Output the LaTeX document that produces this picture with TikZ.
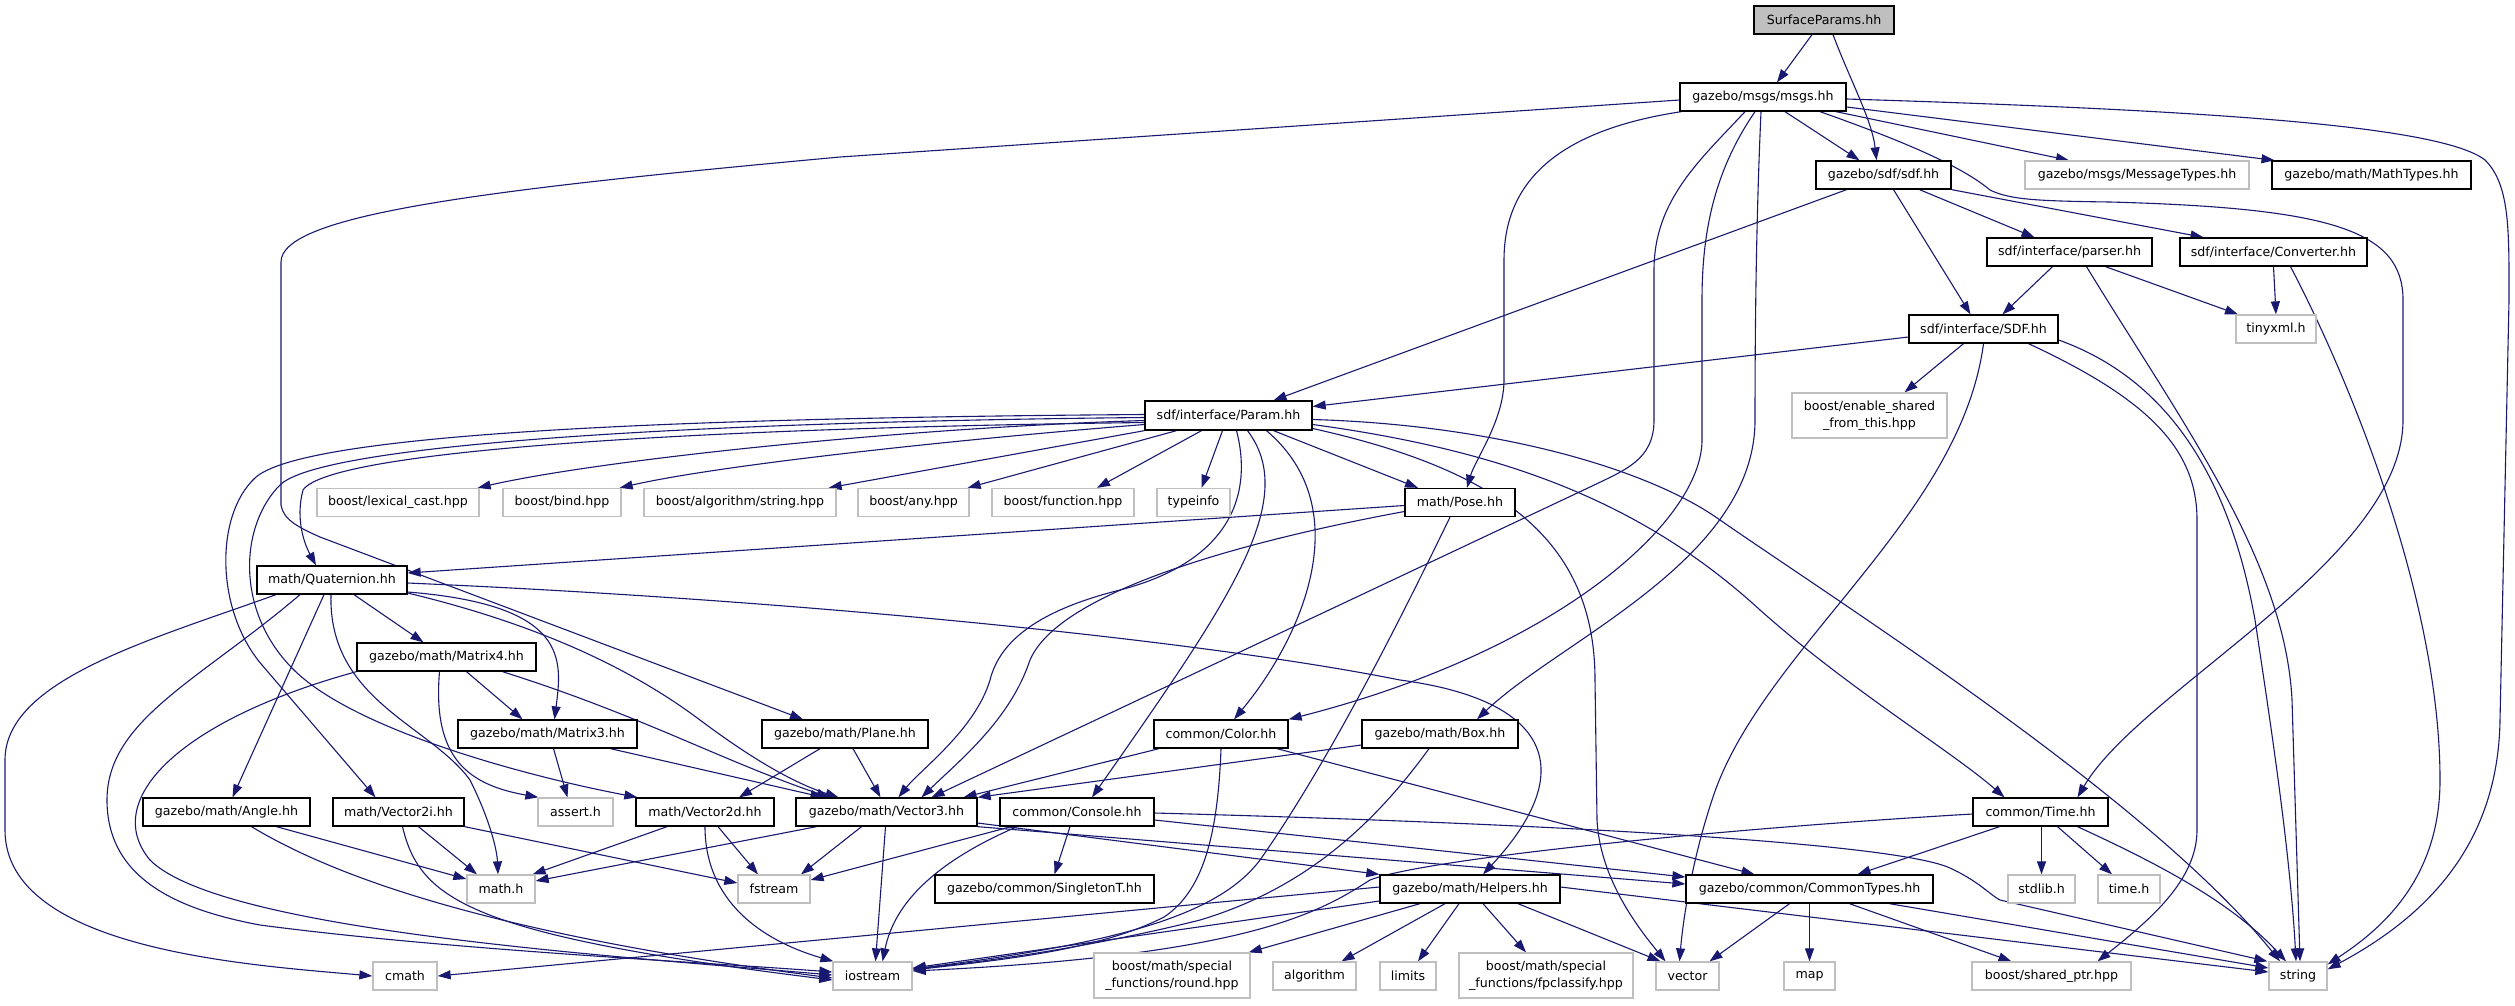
\documentclass[tikz,border=0pt]{standalone}
\usepackage{fontspec}
\setmainfont{DejaVu Sans}
\usetikzlibrary{arrows.meta}
\definecolor{edgeblue}{HTML}{191970}
\definecolor{greyline}{HTML}{BFBFBF}
\pgfdeclarelayer{back}
\pgfdeclarelayer{edges}
\pgfsetlayers{back,edges,main}
\begin{document}
\begin{tikzpicture}[x=1pt,y=-1pt,
  every node/.style={font=\fontsize{12.6}{17}\selectfont, inner sep=0pt, minimum height=28pt, fill=white, line width=1.3pt, align=center},
  bk/.style={draw=black},
  gr/.style={draw=greyline},
  rt/.style={draw=black, fill=greyline},
  tall/.style={minimum height=45pt},
  e/.style={draw=edgeblue, line width=1.1pt, -{Triangle[length=13pt,width=9pt]}}]
\begin{pgfonlayer}{back}
\fill[white] (0,0) rectangle (2515,1005);
\end{pgfonlayer}
\useasboundingbox (0,0) rectangle (2515,1005);
% row 0-4
\node[rt, minimum width=140] (sp) at (1824,20) {SurfaceParams.hh};
\node[bk, minimum width=166] (msgs) at (1763,97) {gazebo/msgs/msgs.hh};
\node[bk, minimum width=135] (sdf) at (1883.5,175) {gazebo/sdf/sdf.hh};
\node[gr, minimum width=224] (msgtypes) at (2137,175) {gazebo/msgs/MessageTypes.hh};
\node[bk, minimum width=199] (mathtypes) at (2371.5,175) {gazebo/math/MathTypes.hh};
\node[bk, minimum width=165] (parser) at (2069.5,252) {sdf/interface/parser.hh};
\node[bk, minimum width=187] (conv) at (2273.5,252) {sdf/interface/Converter.hh};
\node[bk, minimum width=149] (sdfi) at (1983.5,329) {sdf/interface/SDF.hh};
\node[gr, minimum width=80] (tinyxml) at (2276,329) {tinyxml.h};
% row 5-6
\node[bk, minimum width=167, minimum height=29] (param) at (1228.5,415.5) {sdf/interface/Param.hh};
\node[gr, tall, minimum width=155] (esft) at (1869.5,415.5) {boost/enable\_shared\\\_from\_this.hpp};
\node[gr, minimum width=162] (lexcast) at (398,502.5) {boost/lexical\_cast.hpp};
\node[gr, minimum width=118] (bind) at (562,502.5) {boost/bind.hpp};
\node[gr, minimum width=192] (algstr) at (740,502.5) {boost/algorithm/string.hpp};
\node[gr, minimum width=111] (any) at (913.5,502.5) {boost/any.hpp};
\node[gr, minimum width=142] (func) at (1063,502.5) {boost/function.hpp};
\node[gr, minimum width=73] (typeinfo) at (1193.5,502.5) {typeinfo};
\node[bk, minimum width=110] (pose) at (1460,502.5) {math/Pose.hh};
% row 7-9
\node[bk, minimum width=150] (quat) at (332,580) {math/Quaternion.hh};
\node[bk, minimum width=179] (m4) at (446.5,657) {gazebo/math/Matrix4.hh};
\node[bk, minimum width=179] (m3) at (547.5,734) {gazebo/math/Matrix3.hh};
\node[bk, minimum width=166] (plane) at (845,734) {gazebo/math/Plane.hh};
\node[bk, minimum width=134] (color) at (1221,734) {common/Color.hh};
\node[bk, minimum width=156] (box) at (1440,734) {gazebo/math/Box.hh};
% row 10
\node[bk, minimum width=167] (angle) at (226.5,812) {gazebo/math/Angle.hh};
\node[bk, minimum width=131] (v2i) at (398.5,812) {math/Vector2i.hh};
\node[gr, minimum width=75] (assert) at (575.5,812) {assert.h};
\node[bk, minimum width=138] (v2d) at (705,812) {math/Vector2d.hh};
\node[bk, minimum width=181] (v3) at (886.5,812) {gazebo/math/Vector3.hh};
\node[bk, minimum width=154] (console) at (1077,812) {common/Console.hh};
\node[bk, minimum width=135] (time) at (2040.5,812) {common/Time.hh};
% row 11
\node[gr, minimum width=68] (mathh) at (501,889) {math.h};
\node[gr, minimum width=72] (fstream) at (774,889) {fstream};
\node[bk, minimum width=219] (singleton) at (1044.5,889) {gazebo/common/SingletonT.hh};
\node[bk, minimum width=180] (helpers) at (1470,889) {gazebo/math/Helpers.hh};
\node[bk, minimum width=247] (ctypes) at (1809.5,889) {gazebo/common/CommonTypes.hh};
\node[gr, minimum width=67] (stdlib) at (2041.5,889) {stdlib.h};
\node[gr, minimum width=62] (timeh) at (2129,889) {time.h};
% row 12
\node[gr, minimum width=64] (cmath) at (405,976) {cmath};
\node[gr, minimum width=79] (iostream) at (872.5,976) {iostream};
\node[gr, tall, minimum width=156] (round) at (1172,975.5) {boost/math/special\\\_functions/round.hpp};
\node[gr, minimum width=83] (algorithm) at (1314.5,976) {algorithm};
\node[gr, minimum width=56] (limits) at (1408,976) {limits};
\node[gr, tall, minimum width=174] (fpclass) at (1546,975.5) {boost/math/special\\\_functions/fpclassify.hpp};
\node[gr, minimum width=63] (vector) at (1687.5,976) {vector};
\node[gr, minimum width=51] (map) at (1809.5,976) {map};
\node[gr, minimum width=159] (sharedptr) at (2051.5,976) {boost/shared\_ptr.hpp};
\node[gr, minimum width=58] (string) at (2298,976) {string};

\begin{pgfonlayer}{edges}
% SurfaceParams
\draw[e] ([xshift=-12]sp.south) -- ([xshift=14]msgs.north);
\draw[e] ([xshift=9]sp.south) .. controls (1850,80) and (1872,120) .. ([xshift=-7]sdf.north);
% msgs
\draw[e] ([xshift=22]msgs.south) -- ([xshift=-24]sdf.north);
\draw[e] ([xshift=73]msgs.south) -- ([xshift=-68]msgtypes.north);
\draw[e] ([yshift=-10]msgs.east) -- ([xshift=-97]mathtypes.north);
\draw[e] ([yshift=-2]msgs.east) .. controls (2200,110) and (2440,125) .. (2485,160) .. controls (2510,185) and (2509,230) .. (2509,300) -- (2500,720) .. controls (2498,850) and (2420,920) .. ([yshift=-8]string.north east);
\draw[e] ([xshift=57]msgs.south) .. controls (1900,140) and (1960,165) .. (1990,190) .. controls (2010,200) and (2040,201) .. (2110,202) .. controls (2330,208) and (2403,230) .. (2403,300) -- (2403,420) .. controls (2403,560) and (2140,690) .. ([xshift=37]time.north);
\draw[e] ([xshift=2]msgs.south west) .. controls (1560,130) and (1504,180) .. (1504,260) -- (1504,380) .. controls (1504,420) and (1475,460) .. ([xshift=7]pose.north);
\draw[e] ([xshift=-18]msgs.south) .. controls (1700,160) and (1654,200) .. (1654,270) -- (1654,420) .. controls (1654,460) and (1625,470) .. (1590,487) -- ([xshift=45]v3.north);
\draw[e] ([xshift=-8]msgs.south) .. controls (1715,170) and (1702,230) .. (1702,300) -- (1702,440) .. controls (1702,520) and (1560,650) .. (color.north east);
\draw[e] ([xshift=-2]msgs.south) .. controls (1757,200) and (1755,300) .. (1755,420) .. controls (1755,560) and (1560,640) .. ([xshift=37]box.north);
\draw[e] ([yshift=-3]msgs.west) -- (840,157) .. controls (480,190) and (281,215) .. (281,262) -- (281,505) .. controls (283,520) and (300,528) .. (320,537) -- ([xshift=-42]plane.north);
% sdf.hh
\draw[e] ([xshift=-37]sdf.south) -- ([xshift=45]param.north);
\draw[e] ([xshift=10]sdf.south) -- ([xshift=-13]sdfi.north);
\draw[e] ([xshift=36]sdf.south) -- ([xshift=-35]parser.north);
\draw[e] (sdf.south east) -- ([xshift=-70]conv.north);
% parser, converter
\draw[e] ([xshift=-17]parser.south) -- ([xshift=19]sdfi.north);
\draw[e] ([xshift=36]parser.south) -- ([xshift=-38]tinyxml.north);
\draw[e] ([xshift=17]parser.south) .. controls (2180,420) and (2285,560) .. (2292,700) -- ([xshift=2]string.north);
\draw[e] (conv.south) -- (tinyxml.north);
\draw[e] ([xshift=17]conv.south) .. controls (2350,380) and (2440,600) .. (2440,780) .. controls (2440,880) and (2380,930) .. ([yshift=-3]string.north east);
% SDF.hh
\draw[e] ([yshift=-8]sdfi.west) -- ([yshift=9]param.east);
\draw[e] ([xshift=-20]sdfi.south) -- ([xshift=35]esft.north);
\draw[e] (sdfi.south) .. controls (1960,520) and (1760,650) .. (1712,800) .. controls (1692,860) and (1683,920) .. ([xshift=-8]vector.north);
\draw[e] ([xshift=45]sdfi.south) .. controls (2150,400) and (2197,450) .. (2197,520) -- (2197,830) .. controls (2197,880) and (2150,920) .. ([xshift=46]sharedptr.north);
\draw[e] ([yshift=-11]sdfi.east) .. controls (2170,380) and (2230,480) .. (2255,620) .. controls (2270,720) and (2290,850) .. ([xshift=-2]string.north);
% Param.hh
\draw[e] ([yshift=-5]param.west) .. controls (900,428) and (600,460) .. ([xshift=-2]lexcast.north east);
\draw[e] ([yshift=-9]param.west) .. controls (950,440) and (720,465) .. ([xshift=-2]bind.north east);
\draw[e] (param.south west) -- ([xshift=-8]algstr.north east);
\draw[e] ([xshift=-52]param.south) -- ([xshift=-2]any.north east);
\draw[e] ([xshift=-27]param.south) -- ([xshift=34]func.north);
\draw[e] ([xshift=-6]param.south) -- ([xshift=8]typeinfo.north);
\draw[e] ([xshift=45]param.south) -- ([xshift=-42]pose.north);
\draw[e] ([yshift=-7]param.west) .. controls (700,428) and (330,450) .. (303,490) .. controls (295,520) and (305,545) .. ([xshift=-16]quat.north);
\draw[e] ([yshift=1]param.west) .. controls (650,418) and (300,435) .. (255,478) .. controls (215,515) and (215,610) .. (262,665) -- ([xshift=-23]v2i.north);
\draw[e] ([yshift=-2]param.west) .. controls (680,422) and (320,445) .. (280,485) .. controls (240,525) and (235,610) .. (292,668) .. controls (350,728) and (520,775) .. ([xshift=2]v2d.north west);
\draw[e] ([xshift=8]param.south) .. controls (1252,490) and (1235,560) .. (1120,590) .. controls (1040,610) and (1000,640) .. (990,680) .. controls (975,730) and (920,770) .. ([xshift=12]v3.north);
\draw[e] ([xshift=19]param.south) .. controls (1300,500) and (1230,600) .. ([xshift=15]console.north);
\draw[e] ([xshift=38]param.south) .. controls (1360,510) and (1300,640) .. ([xshift=13]color.north);
\draw[e] ([yshift=-9]param.east) .. controls (1500,450) and (1640,500) .. (1760,610) .. controls (1850,690) and (1950,750) .. ([xshift=-36]time.north);
\draw[e] ([yshift=-4]param.east) .. controls (1500,425) and (1650,470) .. (1720,520) .. controls (1850,610) and (2150,800) .. ([xshift=-18]string.north);
\draw[e] ([yshift=-13]param.east) .. controls (1500,470) and (1595,540) .. (1595,680) -- (1597,820) .. controls (1600,880) and (1640,930) .. ([xshift=-22]vector.north);
% Pose
\draw[e] ([yshift=-3]pose.west) -- ([yshift=7]quat.east);
\draw[e] ([yshift=-9]pose.west) .. controls (1250,540) and (1060,590) .. (1030,660) .. controls (1010,720) and (960,760) .. ([xshift=35]v3.north);
\draw[e] ([xshift=-10]pose.south) .. controls (1400,620) and (1330,760) .. (1260,860) .. controls (1215,920) and (1100,945) .. ([yshift=7]iostream.east);
% Quaternion
\draw[e] ([xshift=-56]quat.south) .. controls (150,640) and (5,680) .. (5,760) -- (5,830) .. controls (5,950) and (250,965) .. (cmath.west);
\draw[e] ([xshift=-32]quat.south) .. controls (200,680) and (107,720) .. (107,800) .. controls (107,880) and (180,910) .. (260,925) .. controls (450,950) and (700,962) .. ([yshift=4]iostream.west);
\draw[e] ([xshift=-8]quat.south) -- ([xshift=6]angle.north);
\draw[e] ([xshift=-1]quat.south) .. controls (328,700) and (430,725) .. (470,780) .. controls (490,820) and (497,850) .. ([xshift=-3]mathh.north);
\draw[e] ([xshift=22]quat.south) -- ([xshift=-23]m4.north);
\draw[e] ([yshift=-12]quat.east) .. controls (570,605) and (562,660) .. ([xshift=7]m3.north);
\draw[e] ([yshift=-13]quat.east) .. controls (520,620) and (620,660) .. (700,720) .. controls (760,765) and (800,785) .. ([xshift=-48]v3.north);
\draw[e] ([yshift=-3]quat.east) .. controls (800,600) and (1200,640) .. (1400,680) .. controls (1550,700) and (1580,770) .. ([xshift=13]helpers.north);
% Matrix4, Matrix3, Plane
\draw[e] ([xshift=20]m4.south) -- ([xshift=-25]m3.north);
\draw[e] ([xshift=-7]m4.south) .. controls (432,760) and (470,785) .. ([xshift=1]assert.north west);
\draw[e] ([xshift=56]m4.south) .. controls (640,715) and (720,760) .. ([xshift=-57]v3.north);
\draw[e] (m4.south west) .. controls (180,720) and (100,800) .. (150,860) .. controls (220,930) and (600,955) .. ([yshift=1]iostream.west);
\draw[e] ([xshift=6]m3.south) -- ([xshift=-8]assert.north);
\draw[e] ([xshift=63]m3.south) -- ([xshift=-63]v3.north);
\draw[e] ([xshift=-25]plane.south) -- ([xshift=34]v2d.north);
\draw[e] ([xshift=8]plane.south) -- ([xshift=-6]v3.north);
% Angle, Vector2i, Vector2d, Vector3
\draw[e] ([xshift=50]angle.south) -- ([yshift=10]mathh.west);
\draw[e] ([xshift=25]angle.south) .. controls (340,880) and (500,935) .. ([yshift=-2]iostream.west);
\draw[e] ([xshift=20]v2i.south) -- ([xshift=-24]mathh.north);
\draw[e] ([xshift=4]v2i.south) .. controls (420,900) and (470,935) .. ([yshift=-4]iostream.west);
\draw[e] (v2i.south east) -- ([yshift=6]fstream.west);
\draw[e] ([xshift=-38]v2d.south) -- ([xshift=-3]mathh.north east);
\draw[e] ([xshift=13]v2d.south) -- ([xshift=-16]fstream.north);
\draw[e] (v2d.south) .. controls (705,900) and (760,940) .. ([xshift=1]iostream.north west);
\draw[e] ([xshift=-70]v3.south) -- ([yshift=8]mathh.east);
\draw[e] ([xshift=-25]v3.south) -- ([xshift=27]fstream.north);
\draw[e] ([xshift=-1]v3.south) -- ([xshift=3]iostream.north);
\draw[e] ([yshift=-11]v3.east) -- (helpers.north west);
\draw[e] (v3.south east) -- ([yshift=5]ctypes.west);
% Helpers
\draw[e] ([yshift=2]helpers.west) -- (cmath.east);
\draw[e] ([yshift=-12]helpers.west) -- ([yshift=8]iostream.east);
\draw[e] ([xshift=-50]helpers.south) -- ([xshift=-2]round.north east);
\draw[e] ([xshift=-25]helpers.south) -- ([xshift=27]algorithm.north);
\draw[e] ([xshift=-11]helpers.south) -- ([xshift=10]limits.north);
\draw[e] ([xshift=13]helpers.south) -- ([xshift=-20]fpclass.north);
\draw[e] ([xshift=48]helpers.south) -- ([xshift=-27]vector.north);
\draw[e] ([yshift=2]helpers.east) -- ([yshift=4]string.west);
% Color, Box
\draw[e] (color.south) .. controls (1218,830) and (1205,890) .. (1164,917) .. controls (1100,950) and (1000,960) .. ([yshift=6]iostream.east);
\draw[e] ([xshift=-62]color.south) -- ([xshift=77]v3.north);
\draw[e] ([xshift=56]color.south) -- ([xshift=-55]ctypes.north);
\draw[e] ([yshift=-11]box.west) -- (v3.north east);
\draw[e] ([xshift=-11]box.south) .. controls (1370,830) and (1300,890) .. (1200,920) .. controls (1100,945) and (1000,960) .. ([yshift=7]iostream.east);
% Console
\draw[e] ([xshift=-7]console.south) -- ([xshift=10]singleton.north);
\draw[e] ([xshift=-60]console.south) .. controls (940,860) and (895,900) .. ([xshift=10]iostream.north);
\draw[e] ([xshift=-66]console.south) -- ([yshift=9]fstream.east);
\draw[e] ([yshift=-1]console.east) .. controls (1600,825) and (1900,845) .. (1950,868) .. controls (1980,882) and (1990,895) .. (2000,900) -- ([xshift=-1]string.north west);
\draw[e] ([yshift=-8]console.east) -- ([yshift=12]ctypes.west);
% Time
\draw[e] ([yshift=-2]time.west) .. controls (1700,830) and (1420,860) .. (1370,880) .. controls (1320,912) and (1250,955) .. ([yshift=5]iostream.east);
\draw[e] ([xshift=-41]time.south) -- ([xshift=48]ctypes.north);
\draw[e] ([xshift=1]time.south) -- (stdlib.north);
\draw[e] ([xshift=17]time.south) -- ([xshift=-17]timeh.north);
\draw[e] ([xshift=37]time.south) .. controls (2150,860) and (2230,900) .. ([xshift=-12]string.north);
% CommonTypes
\draw[e] ([xshift=-20]ctypes.south) -- ([xshift=22]vector.north);
\draw[e] (ctypes.south) -- (map.north);
\draw[e] ([xshift=40]ctypes.south) -- ([xshift=-40]sharedptr.north);
\draw[e] ([xshift=80]ctypes.south) -- ([yshift=8]string.west);
\end{pgfonlayer}
\end{tikzpicture}
\end{document}
